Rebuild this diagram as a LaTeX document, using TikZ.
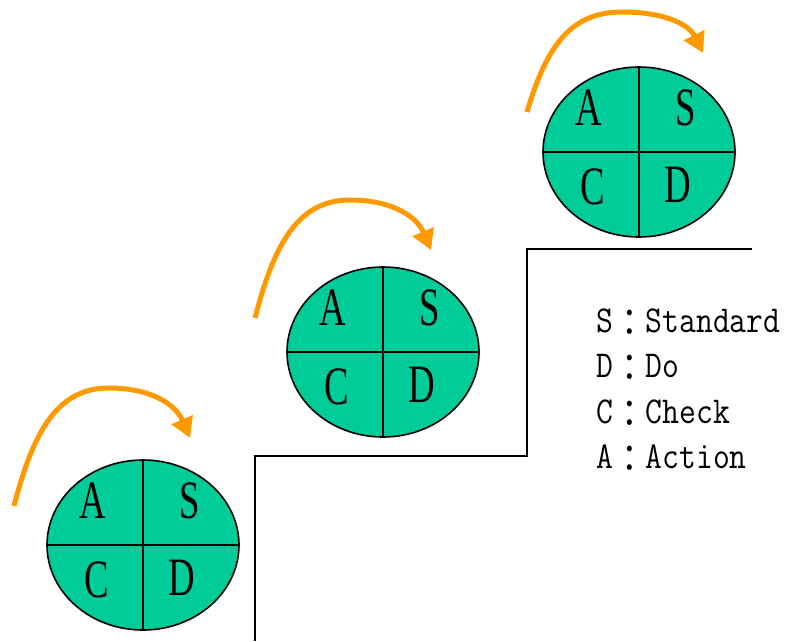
\documentclass[tikz,border=0pt]{standalone}
\usepackage{fontspec}
\setmainfont{Liberation Serif}
\newfontfamily\cjk{Noto Sans CJK TC}
\usepackage{xcolor}
\usepackage{tikz}
\usetikzlibrary{arrows.meta,calc,positioning,shapes.geometric}

\definecolor{pdcagreen}{RGB}{0,204,153}
\definecolor{cycleorange}{RGB}{255,153,0}

\newcommand{\legcolon}{\raisebox{-4pt}{\cjk ：}}

\tikzset{
  pdca/.style={ellipse, draw=black, line width=1.6pt, fill=pdcagreen,
    minimum width=192pt, minimum height=170pt, inner sep=0pt},
  quarter/.style={font=\fontsize{54}{54}\selectfont, xscale=0.68, inner sep=0pt},
  cyclearrow/.style={cycleorange, line width=5pt,
    -{Triangle[length=20pt,width=22pt]}},
  stair/.style={black, line width=1.6pt},
  legend/.style={font=\ttfamily\fontsize{38}{38}\selectfont, xscale=0.86,
    anchor=base west, inner sep=0pt}
}

\begin{document}
\begin{tikzpicture}[x=1pt,y=-1pt]
\useasboundingbox (0,0) rectangle (791,641);

% stairs
\coordinate (floor) at (255,641);
\coordinate (step1) at (527,456);
\coordinate (step2) at (752,249);
\draw[stair] (floor) |- (step1) |- (step2);

% lower cycle
\node[pdca] (e1) at (143,545) {};
\draw[line width=1.6pt] (e1.north) -- (e1.south);
\draw[line width=1.6pt] (e1.west) -- (e1.east);
\node[quarter] (a1) at ($(e1.center)+(-50,-44)$) {A};
\node[quarter] (s1) at ($(e1.center)+(47,-44)$) {S};
\node[quarter] (c1) at ($(e1.center)+(-46,35)$) {C};
\node[quarter] (d1) at ($(e1.center)+(39,33)$) {D};
\coordinate (from1) at (14,506);
\coordinate (top1) at ($(from1)+(95,-118)$);
\coordinate (to1) at ($(from1)+(176,-68)$);
\draw[cyclearrow] (from1) .. controls +(20,-78) and +(-50,0) .. (top1)
  .. controls +(40,0) and +(-15,-35) .. (to1);

% middle cycle
\node[pdca] (e2) at (383,352) {};
\draw[line width=1.6pt] (e2.north) -- (e2.south);
\draw[line width=1.6pt] (e2.west) -- (e2.east);
\node[quarter] (a2) at ($(e2.center)+(-50,-44)$) {A};
\node[quarter] (s2) at ($(e2.center)+(47,-44)$) {S};
\node[quarter] (c2) at ($(e2.center)+(-46,35)$) {C};
\node[quarter] (d2) at ($(e2.center)+(39,33)$) {D};
\coordinate (from2) at (255,318);
\coordinate (top2) at ($(from2)+(95,-118)$);
\coordinate (to2) at ($(from2)+(176,-68)$);
\draw[cyclearrow] (from2) .. controls +(20,-78) and +(-50,0) .. (top2)
  .. controls +(40,0) and +(-15,-35) .. (to2);

% upper cycle
\node[pdca] (e3) at (639,152) {};
\draw[line width=1.6pt] (e3.north) -- (e3.south);
\draw[line width=1.6pt] (e3.west) -- (e3.east);
\node[quarter] (a3) at ($(e3.center)+(-50,-44)$) {A};
\node[quarter] (s3) at ($(e3.center)+(47,-44)$) {S};
\node[quarter] (c3) at ($(e3.center)+(-46,35)$) {C};
\node[quarter] (d3) at ($(e3.center)+(39,33)$) {D};
\coordinate (from3) at (527,112);
\coordinate (top3) at ($(from3)+(95,-100)$);
\coordinate (to3) at ($(from3)+(176,-59)$);
\draw[cyclearrow] (from3) .. controls +(20,-68) and +(-50,0) .. (top3)
  .. controls +(40,0) and +(-15,-30) .. (to3);

% legend
\node[legend] (lS) at (596,332) {S\legcolon Standard};
\node[legend] (lD) at (596,377.5) {D\legcolon Do};
\node[legend] (lC) at (596,423) {C\legcolon Check};
\node[legend] (lA) at (596,468.5) {A\legcolon Action};

\end{tikzpicture}
\end{document}
